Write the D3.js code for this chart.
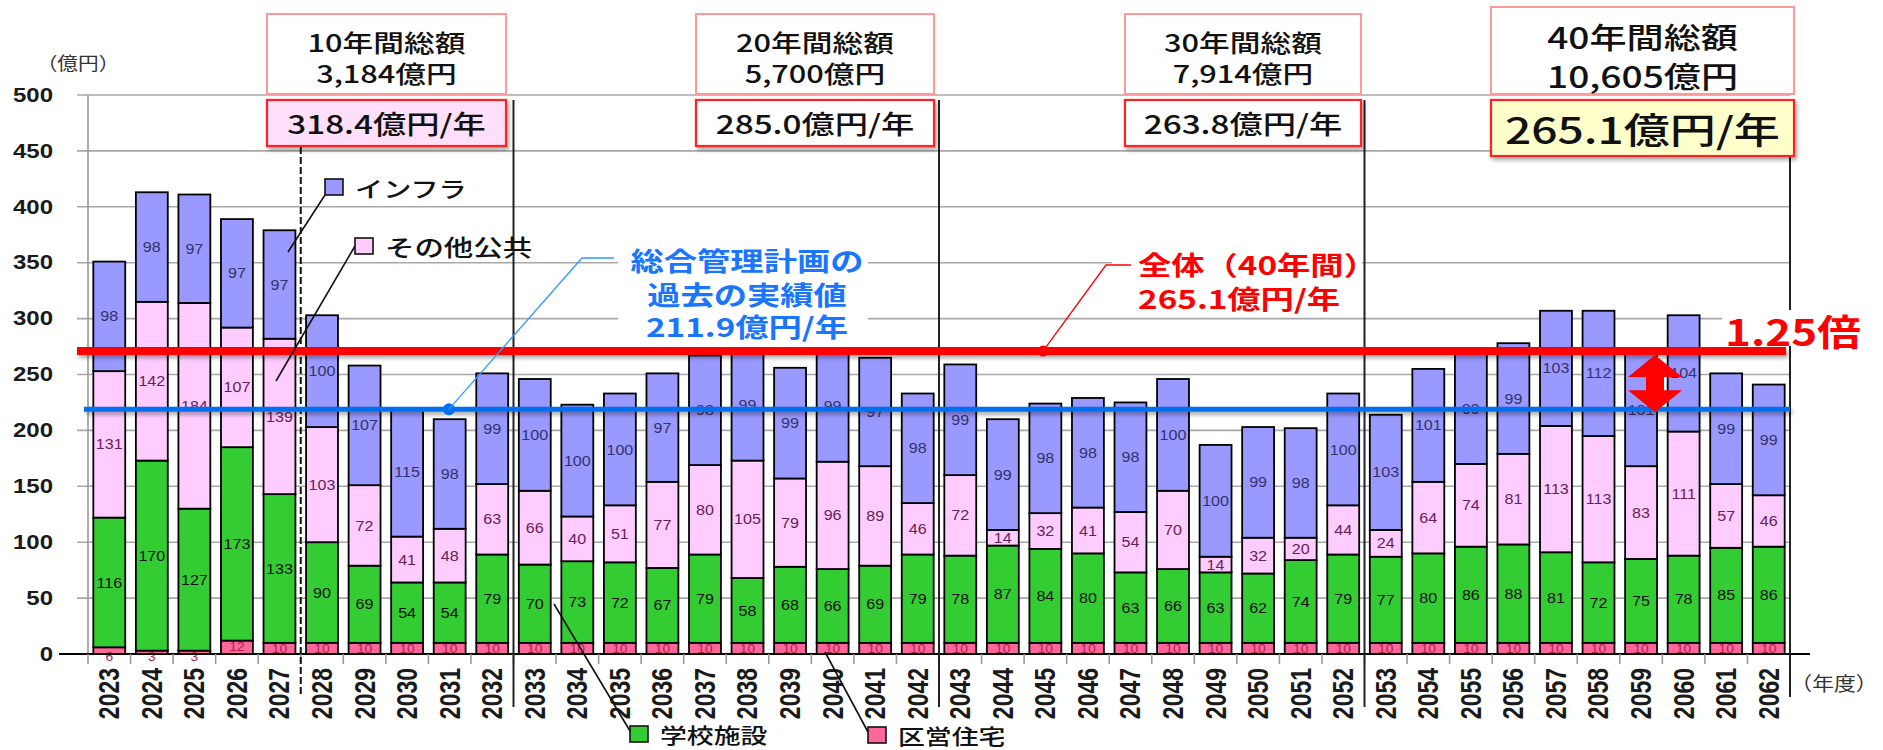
<!DOCTYPE html>
<html>
<head>
<meta charset="utf-8">
<title>更新費用の見通し</title>
<script src="https://d3js.org/d3.v7.min.js"></script>
<style>
  body { margin: 0; background: #fff; }
</style>
</head>
<body>
<div id="chart"></div>
<script>
// ---- data (億円) ----
var years = ["2023","2024","2025","2026","2027","2028","2029","2030","2031","2032",
             "2033","2034","2035","2036","2037","2038","2039","2040","2041","2042",
             "2043","2044","2045","2046","2047","2048","2049","2050","2051","2052",
             "2053","2054","2055","2056","2057","2058","2059","2060","2061","2062"];
var housing     = [6, 3, 3, 12, 10, 10, 10, 10, 10, 10, 10, 10, 10, 10, 10, 10, 10, 10, 10, 10,
                   10, 10, 10, 10, 10, 10, 10, 10, 10, 10, 10, 10, 10, 10, 10, 10, 10, 10, 10, 10];
var school      = [116, 170, 127, 173, 133, 90, 69, 54, 54, 79, 70, 73, 72, 67, 79, 58, 68, 66, 69, 79,
                   78, 87, 84, 80, 63, 66, 63, 62, 74, 79, 77, 80, 86, 88, 81, 72, 75, 78, 85, 86];
var otherPublic = [131, 142, 184, 107, 139, 103, 72, 41, 48, 63, 66, 40, 51, 77, 80, 105, 79, 96, 89, 46,
                   72, 14, 32, 41, 54, 70, 14, 32, 20, 44, 24, 64, 74, 81, 113, 113, 83, 111, 57, 46];
var infra       = [98, 98, 97, 97, 97, 100, 107, 115, 98, 99, 100, 100, 100, 97, 98, 99, 99, 99, 97, 98,
                   99, 99, 98, 98, 98, 100, 100, 99, 98, 100, 103, 101, 99, 99, 103, 112, 101, 104, 99, 99];
var yTicks = [0, 50, 100, 150, 200, 250, 300, 350, 400, 450, 500];

var periodTitles = ["10年間総額", "20年間総額", "30年間総額", "40年間総額"];
var periodSums   = ["3,184億円", "5,700億円", "7,914億円", "10,605億円"];
var periodRates  = ["318.4億円/年", "285.0億円/年", "263.8億円/年", "265.1億円/年"];

// reference lines, at the height they are drawn in the chart
var pastLine = 219;     // 総合管理計画の過去の実績値 211.9億円/年
var overallLine = 271;  // 全体（40年間）265.1億円/年

var keys = ["housing", "school", "other", "infra"];
var names = {housing: "区営住宅", school: "学校施設", other: "その他公共", infra: "インフラ"};
var colors = {housing: "#ff6699", school: "#33cc33", other: "#ffccff", infra: "#9999ff"};
var labelColors = {housing: "#aa2255", school: "#111", other: "#662255", infra: "#33336b"};

var width = 1883, height = 750;
var SX = 1.28; // the picture is stretched sideways
var jpFont = "'Noto Sans CJK JP', sans-serif";
var numFont = "'Liberation Sans', Arial, sans-serif";

var table = years.map(function(yr, i) {
  return {year: yr, housing: housing[i], school: school[i], other: otherPublic[i], infra: infra[i]};
});

var svg = d3.select("#chart").append("svg")
  .attr("width", width)
  .attr("height", height);

var defs = svg.append("defs");
var shadow = defs.append("filter").attr("id", "shadow")
  .attr("filterUnits", "userSpaceOnUse")
  .attr("x", 0).attr("y", 0).attr("width", width).attr("height", height);
shadow.append("feDropShadow").attr("dx", 2).attr("dy", 3).attr("stdDeviation", 2)
  .attr("flood-color", "#000").attr("flood-opacity", 0.35);

var x = d3.scaleBand()
  .domain(years)
  .range([88, 1790])
  .paddingInner(0.25)
  .paddingOuter(0.125);

var y = d3.scaleLinear()
  .domain([0, 500])
  .range([654, 95]);

function addText(parent, px, py, str, o) {
  return parent.append("text")
    .attr("transform", "translate(" + px + "," + py + ") scale(" + (o.sx || SX) + ",1)" + (o.rotate ? " rotate(" + o.rotate + ")" : ""))
    .attr("text-anchor", o.anchor || "middle")
    .attr("dominant-baseline", "central")
    .attr("font-family", o.font || jpFont)
    .attr("font-size", o.size)
    .attr("font-weight", o.weight || "normal")
    .attr("fill", o.color || "#111")
    .text(str);
}

function boundary(k) {
  var gap = x.step() * x.paddingInner() / 2;
  if (k < years.length) return x(years[k]) - gap;
  return x(years[years.length - 1]) + x.bandwidth() + gap;
}

// gridlines
svg.append("g").selectAll("line")
  .data(yTicks)
  .enter().append("line")
  .attr("x1", 77).attr("x2", 1790)
  .attr("y1", function(d) { return y(d); })
  .attr("y2", function(d) { return y(d); })
  .attr("stroke", "#a8a8a8")
  .attr("stroke-width", 1.6);

svg.append("line")
  .attr("x1", 88).attr("x2", 88)
  .attr("y1", y(500)).attr("y2", y(0))
  .attr("stroke", "#999").attr("stroke-width", 1.6);

// y tick labels
yTicks.forEach(function(t) {
  addText(svg, 53, y(t), t, {size: 20, anchor: "end", font: numFont, weight: "bold", color: "#1a1a1a", sx: 1.2});
});
addText(svg, 78, 63, "（億円）", {size: 18, color: "#333", sx: 1.15});

// stacked bars
var stacked = d3.stack().keys(keys)(table);

var layers = svg.append("g").selectAll("g")
  .data(stacked)
  .enter().append("g")
  .attr("fill", function(d) { return colors[d.key]; });

layers.selectAll("rect")
  .data(function(d) { return d; })
  .enter().append("rect")
  .attr("x", function(d) { return x(d.data.year); })
  .attr("y", function(d) { return y(d[1]); })
  .attr("width", x.bandwidth())
  .attr("height", function(d) { return y(d[0]) - y(d[1]); })
  .attr("stroke", "#000")
  .attr("stroke-width", 1.8);

// value labels in the segments
stacked.forEach(function(layer) {
  layer.forEach(function(d) {
    var v = d.data[layer.key];
    var cy = (y(d[0]) + y(d[1])) / 2;
    if (layer.key === "housing" && v < 8) cy = y(0) + 3;
    addText(svg, x(d.data.year) + x.bandwidth() / 2, cy, v, {
      size: layer.key === "housing" ? 12 : 14,
      font: numFont,
      color: labelColors[layer.key],
      sx: 1.15
    });
  });
});

// x axis
svg.append("line")
  .attr("x1", 59).attr("x2", 1810)
  .attr("y1", y(0)).attr("y2", y(0))
  .attr("stroke", "#000").attr("stroke-width", 2.2);

svg.append("g").selectAll("line")
  .data(d3.range(years.length + 1))
  .enter().append("line")
  .attr("x1", function(k) { return boundary(k); })
  .attr("x2", function(k) { return boundary(k); })
  .attr("y1", y(0)).attr("y2", y(0) + 10)
  .attr("stroke", "#999").attr("stroke-width", 1.6);

years.forEach(function(yr) {
  addText(svg, x(yr) + x.bandwidth() / 2, 668, yr, {
    size: 23, font: numFont, weight: "bold", anchor: "end", rotate: -90, color: "#1a1a1a", sx: 1.25
  });
});
addText(svg, 1834, 683, "（年度）", {size: 19, color: "#333", sx: 1.15});

// period separators
svg.append("line")
  .attr("x1", boundary(5)).attr("x2", boundary(5))
  .attr("y1", 147).attr("y2", 697)
  .attr("stroke", "#111").attr("stroke-width", 2)
  .attr("stroke-dasharray", "7,3");
[10, 20, 30].forEach(function(k) {
  svg.append("line")
    .attr("x1", boundary(k)).attr("x2", boundary(k))
    .attr("y1", 100).attr("y2", 707)
    .attr("stroke", "#222").attr("stroke-width", 2);
});
svg.append("line")
  .attr("x1", boundary(40)).attr("x2", boundary(40))
  .attr("y1", 156).attr("y2", 697)
  .attr("stroke", "#222").attr("stroke-width", 2);

// reference lines
svg.append("line")
  .attr("x1", 84).attr("x2", 1790)
  .attr("y1", y(pastLine)).attr("y2", y(pastLine))
  .attr("stroke", "#0070f0").attr("stroke-width", 5)
  .attr("filter", "url(#shadow)");
svg.append("line")
  .attr("x1", 77).attr("x2", 1786)
  .attr("y1", y(overallLine)).attr("y2", y(overallLine))
  .attr("stroke", "#ff0000").attr("stroke-width", 8)
  .attr("filter", "url(#shadow)");

// 1.25倍 arrow
var ax = 1655, aTop = y(overallLine) + 4, aBot = y(pastLine) + 3;
svg.append("path")
  .attr("d", "M" + ax + "," + aTop +
    " L" + (ax + 27) + "," + (aTop + 22) + " L" + (ax + 9) + "," + (aTop + 22) +
    " L" + (ax + 9) + "," + (aBot - 22) + " L" + (ax + 27) + "," + (aBot - 22) +
    " L" + ax + "," + aBot +
    " L" + (ax - 27) + "," + (aBot - 22) + " L" + (ax - 9) + "," + (aBot - 22) +
    " L" + (ax - 9) + "," + (aTop + 22) + " L" + (ax - 27) + "," + (aTop + 22) + " Z")
  .attr("fill", "#ff0000");

svg.append("rect").attr("x", 1722).attr("y", 310).attr("width", 140).attr("height", 36).attr("fill", "#fff");
addText(svg, 1793, 330, "1.25倍", {size: 36, weight: "bold", color: "#ff0000", sx: 1.22});

// annotation: past actual value
svg.append("rect").attr("x", 618).attr("y", 240).attr("width", 250).attr("height", 100).attr("fill", "#fff");
svg.append("circle").attr("cx", 449).attr("cy", y(pastLine)).attr("r", 6).attr("fill", "#0070f0");
svg.append("polyline")
  .attr("points", "449," + y(pastLine) + " 582,258 614,258")
  .attr("fill", "none").attr("stroke", "#3399ff").attr("stroke-width", 1.3);
addText(svg, 747, 260, "総合管理計画の", {size: 26, weight: "bold", color: "#1a75ff"});
addText(svg, 747, 294, "過去の実績値", {size: 26, weight: "bold", color: "#1a75ff"});
addText(svg, 747, 326, "211.9億円/年", {size: 26, weight: "bold", color: "#1a75ff"});

// annotation: overall 40 years
svg.append("rect").attr("x", 1112).attr("y", 240).attr("width", 250).attr("height", 72).attr("fill", "#fff");
svg.append("circle").attr("cx", 1043).attr("cy", y(overallLine)).attr("r", 5.5).attr("fill", "#ff0000");
svg.append("polyline")
  .attr("points", "1043," + y(overallLine) + " 1106,265 1131,265")
  .attr("fill", "none").attr("stroke", "#ff0000").attr("stroke-width", 1.3);
addText(svg, 1138, 264, "全体（40年間）", {size: 26, weight: "bold", color: "#ff0000", anchor: "start"});
addText(svg, 1138, 298, "265.1億円/年", {size: 26, weight: "bold", color: "#ff0000", anchor: "start"});

// period boxes
var boxX = [267, 696, 1125, 1491];
var boxW = [239, 238, 236, 303];
var rateFill = ["#ffe0fa", "#fff", "#fff", "#ffffcc"];
periodTitles.forEach(function(title, i) {
  var big = i === 3;
  var top = big ? 7 : 14;
  svg.append("rect")
    .attr("x", boxX[i]).attr("y", top)
    .attr("width", boxW[i]).attr("height", 94 - top)
    .attr("fill", "#fff").attr("stroke", "#ff9999").attr("stroke-width", 2);
  var cx = boxX[i] + boxW[i] / 2;
  addText(svg, cx, big ? 36 : 41.5, title, {size: big ? 29 : 24, weight: 500});
  addText(svg, cx, big ? 75 : 73, periodSums[i], {size: big ? 29 : 24, weight: 500});
  svg.append("rect")
    .attr("x", boxX[i]).attr("y", 100)
    .attr("width", boxW[i]).attr("height", big ? 56 : 46)
    .attr("fill", rateFill[i]).attr("stroke", "#ff2020").attr("stroke-width", 2.2)
    .attr("filter", "url(#shadow)");
  addText(svg, cx, big ? 128 : 123, periodRates[i], {size: big ? 36 : 26, weight: 500});
});

// legend with leader lines
function legendItem(sqX, sqY, key, lx1, ly1, lx2, ly2, textSize) {
  svg.append("line")
    .attr("x1", lx1).attr("y1", ly1).attr("x2", lx2).attr("y2", ly2)
    .attr("stroke", "#111").attr("stroke-width", 1.6);
  svg.append("rect")
    .attr("x", sqX).attr("y", sqY).attr("width", 18).attr("height", 16)
    .attr("fill", colors[key]).attr("stroke", "#111").attr("stroke-width", 1.6);
  addText(svg, sqX + 30, sqY + 8, names[key], {size: textSize, anchor: "start", weight: 500});
}
legendItem(325, 179, "infra", 325, 195, 288, 252, 22);
legendItem(355, 238, "other", 355, 246, 276, 381, 23);
legendItem(630, 726, "school", 554, 604, 630, 731, 21);
legendItem(868, 727, "housing", 825, 652, 868, 732, 21);
</script>
</body>
</html>
